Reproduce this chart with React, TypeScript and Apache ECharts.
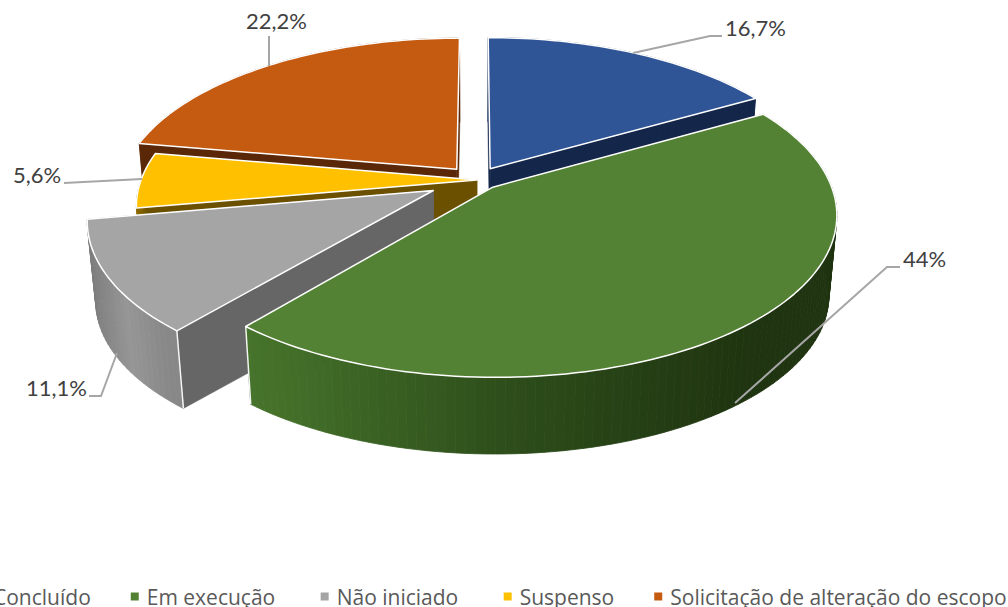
import React, { useEffect, useRef } from "react";
import * as echarts from "echarts";

const categories = ["Concluído", "Em execução", "Não iniciado", "Suspenso", "Solicitação de alteração do escopo"];
const values = [16.7, 44.4, 11.1, 5.6, 22.2];
const valueLabels = ["16,7%", "44%", "11,1%", "5,6%", "22,2%"];
const explodes = [0.085, 0.068, 0.145, 0, 0.09];
const colors = ["#2F5597", "#548235", "#A5A5A5", "#FFC000", "#C55A11"];
const sideColors = ["#14264A", "#2A4119", "#666666", "#6B5000", "#5A2808"];
const wallStops = [
  ["#1B3260", "#14264A", "#14264A"],
  ["#47752C", "#2E4F1B", "#1F3410"],
  ["#7E7E7E", "#969696", "#888888"],
  ["#8F6C00", "#6B5000", "#6B5000"],
  ["#5A2808", "#5A2808", "#5A2808"],
];
const paintOrder = [4, 0, 3, 2, 1];
const nudges = [[1, 0], [3, -1], [1, -1], [2, 0], [1, 0]];
const legendPads = ["", " ", " ", "", ""];

const CX = 475, CY = 180, RX = 336, RY = 156, K = 0.164, DEPTH = 81, SHRINK = 0.978;
const total = values.reduce((a, b) => a + b, 0);

function project(u: number, v: number) {
  const p = 1 / (1 - K * v);
  return [CX + RX * u * p, CY + RY * v * p];
}
function lower(pt: number[]) {
  return [CX + (pt[0] - CX) * SHRINK, CY + (pt[1] - CY) * SHRINK + DEPTH];
}

function renderSlice(index: number) {
  return (_params: any, api: any) => {
    const value = api.value(0);
    let before = 0;
    for (let i = 0; i < index; i++) before += values[i];
    const a0 = (before / total) * Math.PI * 2;
    const a1 = ((before + value) / total) * Math.PI * 2;
    const mid = (a0 + a1) / 2;
    const e = explodes[index];
    const ou = e * Math.sin(mid), ov = -e * Math.cos(mid);
    const [nx, ny] = nudges[index];
    const place = (u: number, v: number) => {
      const q = project(u, v);
      return [q[0] + nx, q[1] + ny];
    };
    const apex = place(ou, ov);
    const rim: number[][] = [];
    const n = Math.max(8, Math.round((a1 - a0) * 40));
    for (let i = 0; i <= n; i++) {
      const a = a0 + ((a1 - a0) * i) / n;
      rim.push(place(ou + Math.sin(a), ov - Math.cos(a)));
    }
    const first = rim[0], last = rim[rim.length - 1];
    const side = (pt: number[]) => ({
      type: "polygon",
      shape: { points: [apex, pt, lower(pt), lower(apex)] },
      style: { fill: sideColors[index], stroke: sideColors[index], lineWidth: 0.5 },
    });
    const xs = rim.map((q) => q[0]);
    const minX = Math.min(...xs), maxX = Math.max(...xs);
    const shade = (x: number) => {
      const t = Math.min(1, ((x - minX) / (maxX - minX)) / 0.85);
      return echarts.color.lerp(t, wallStops[index]);
    };
    const wall = rim.slice(1).map((q, i) => {
      const c = shade((q[0] + rim[i][0]) / 2);
      return {
        type: "polygon",
        shape: { points: [rim[i], q, lower(q), lower(rim[i])] },
        style: { fill: c, stroke: c, lineWidth: 0.8 },
      };
    });
    const edge = (pt: number[]) => {
      const b = lower(pt);
      return {
        type: "line",
        shape: { x1: pt[0], y1: pt[1], x2: b[0], y2: b[1] },
        style: { stroke: "#F4F4F4", lineWidth: 1.5 },
      };
    };
    const top = {
      type: "polygon",
      shape: { points: [apex, ...rim] },
      style: { fill: colors[index], stroke: "#FFFFFF", lineWidth: 1.5, lineJoin: "round" },
    };
    const edges = index === 2 ? [edge(first)] : index === 1 ? [edge(last)] : [];
    return {
      type: "group",
      children: [side(first), side(last), ...wall, ...edges, top],
    };
  };
}

const leaders = [
  [[633, 53], [710, 36], [722, 36]],
  [[735, 403], [887, 267], [900, 267]],
  [[117, 353], [101, 396], [89, 396]],
  [[142, 179], [64, 183]],
  [[269, 66], [269, 36]],
];
const labelAnchors = [[725, 27.5], [903, 258.5], [26, 387.5], [13, 174.5], [246, 20.5]];

export default function App() {
  const ref = useRef<HTMLDivElement>(null);
  useEffect(() => {
    const chart = echarts.init(ref.current!, undefined, { renderer: "svg" });
    chart.setOption({
      animation: false,
      legend: {
        data: categories,
        left: -28,
        top: 581,
        width: 1200,
        icon: "rect",
        itemWidth: 8,
        itemHeight: 8,
        itemGap: 40,
        selectedMode: false,
        formatter: (name: string) => name + legendPads[categories.indexOf(name)],
        textStyle: { fontFamily: "Open Sans", fontSize: 21, color: "#595959", padding: [0, 0, 0, 3] },
      },
      series: categories.map((name, i) => ({
        type: "custom",
        name,
        coordinateSystem: "none",
        silent: true,
        z: 2 + paintOrder.indexOf(i),
        itemStyle: { color: colors[i] },
        data: [[values[i]]],
        renderItem: renderSlice(i),
      })),
      graphic: {
        elements: [
          ...leaders.map((points) => ({
            type: "polyline",
            z: 50,
            shape: { points },
            style: { stroke: "#A6A6A6", lineWidth: 2, fill: "none" },
          })),
          ...valueLabels.map((text, i) => ({
            type: "text",
            z: 51,
            x: labelAnchors[i][0],
            y: labelAnchors[i][1],
            style: {
              text,
              fill: "#404040",
              fontFamily: "Lato",
              fontSize: 22,
              verticalAlign: "middle",
              align: "left",
            },
          })),
        ],
      },
    });
    return () => chart.dispose();
  }, []);
  return <div ref={ref} style={{ position: "absolute", left: 0, top: 0, width: 1008, height: 607 }} />;
}
